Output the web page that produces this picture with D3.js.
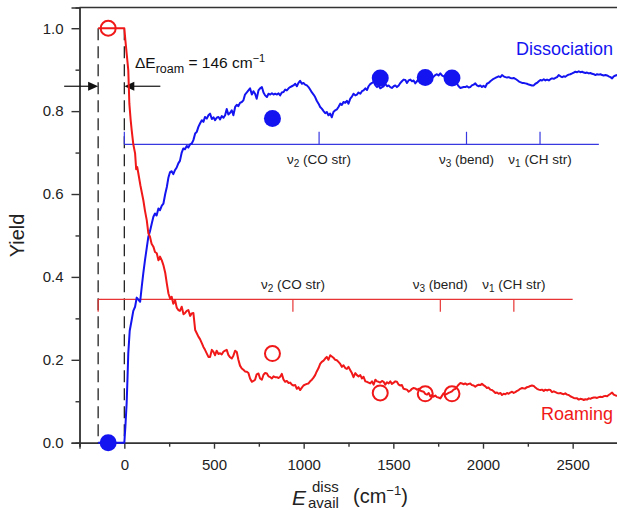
<!DOCTYPE html>
<html>
<head>
<meta charset="utf-8">
<script src="https://cdn.jsdelivr.net/npm/d3@7"></script>
<style>
  body { margin: 0; background: #fff; }
  text { font-family: 'Liberation Sans', Arial, sans-serif; }
</style>
</head>
<body>
<div class="chart"></div>
<script>
// DATA
// ----------------------------
// [E_avail (cm-1), yield]
const roaming = [
  [-146, 1.0], [0, 1.0], [6, 0.97], [13, 0.939], [22, 0.899], [28, 0.818], [35, 0.78], [41, 0.754],
  [50, 0.72], [60, 0.698], [66, 0.66], [72, 0.665], [78, 0.65], [90, 0.62], [106, 0.585], [115, 0.56],
  [125, 0.537], [134, 0.505], [143, 0.497], [152, 0.48], [162, 0.473], [171, 0.46], [181, 0.457],
  [190, 0.44], [199, 0.449], [209, 0.44], [218, 0.428], [228, 0.41], [237, 0.384], [246, 0.36],
  [255, 0.348], [264, 0.352], [273, 0.335], [283, 0.344], [292, 0.326], [301, 0.32], [310, 0.318],
  [320, 0.328], [330, 0.31], [339, 0.313], [348, 0.318], [357, 0.32], [367, 0.306], [376, 0.312],
  [385, 0.313], [395, 0.272], [404, 0.264], [413, 0.256], [422, 0.25], [432, 0.24], [441, 0.231],
  [450, 0.224], [460, 0.215], [469, 0.207], [478, 0.207], [488, 0.224], [497, 0.219], [506, 0.211],
  [515, 0.222], [525, 0.214], [534, 0.216], [543, 0.213], [553, 0.22], [562, 0.222], [571, 0.224],
  [580, 0.212], [590, 0.206], [599, 0.203], [608, 0.21], [618, 0.222], [627, 0.219], [636, 0.2],
  [645, 0.186], [655, 0.179], [664, 0.176], [673, 0.172], [683, 0.171], [692, 0.168], [701, 0.155],
  [711, 0.147], [720, 0.149], [729, 0.152], [738, 0.165], [748, 0.167], [757, 0.155], [767, 0.152],
  [776, 0.164], [785, 0.168], [795, 0.167], [804, 0.16], [814, 0.158], [823, 0.155], [832, 0.16],
  [841, 0.158], [851, 0.158], [860, 0.156], [869, 0.159], [878, 0.166], [888, 0.152], [897, 0.147],
  [906, 0.149], [916, 0.144], [925, 0.145], [934, 0.14], [943, 0.138], [953, 0.139], [962, 0.13],
  [971, 0.134], [980, 0.127], [990, 0.133], [999, 0.138], [1008, 0.14], [1018, 0.142], [1027, 0.143],
  [1036, 0.148], [1046, 0.152], [1055, 0.157], [1064, 0.163], [1073, 0.172], [1083, 0.18], [1092, 0.19],
  [1101, 0.195], [1111, 0.198], [1120, 0.203], [1129, 0.207], [1138, 0.2], [1148, 0.211], [1157, 0.208],
  [1166, 0.205], [1176, 0.2], [1185, 0.199], [1194, 0.195], [1204, 0.19], [1213, 0.183], [1222, 0.187],
  [1232, 0.18], [1241, 0.178], [1250, 0.183], [1260, 0.175], [1269, 0.168], [1278, 0.158], [1288, 0.168],
  [1297, 0.163], [1306, 0.16], [1316, 0.163], [1325, 0.155], [1334, 0.159], [1344, 0.148], [1353, 0.147],
  [1362, 0.145], [1371, 0.143], [1381, 0.148], [1390, 0.14], [1400, 0.152], [1409, 0.148], [1418, 0.147],
  [1427, 0.145], [1437, 0.149], [1446, 0.147], [1455, 0.14], [1465, 0.146], [1474, 0.143], [1483, 0.148],
  [1492, 0.142], [1502, 0.145], [1511, 0.148], [1520, 0.147], [1530, 0.14], [1539, 0.138], [1548, 0.139],
  [1557, 0.13], [1567, 0.129], [1576, 0.128], [1585, 0.123], [1595, 0.126], [1604, 0.13], [1613, 0.132],
  [1622, 0.131], [1632, 0.128], [1641, 0.13], [1650, 0.126], [1660, 0.124], [1669, 0.123], [1678, 0.118],
  [1688, 0.116], [1697, 0.12], [1706, 0.112], [1716, 0.115], [1724, 0.111], [1734, 0.114], [1743, 0.11],
  [1752, 0.109], [1762, 0.107], [1771, 0.113], [1780, 0.119], [1790, 0.116], [1799, 0.118], [1808, 0.12],
  [1818, 0.122], [1827, 0.124], [1836, 0.128], [1846, 0.13], [1855, 0.135], [1864, 0.14], [1874, 0.144],
  [1883, 0.143], [1892, 0.141], [1901, 0.143], [1911, 0.14], [1920, 0.142], [1929, 0.143], [1938, 0.139],
  [1948, 0.138], [1957, 0.135], [1966, 0.138], [1976, 0.14], [1985, 0.139], [1994, 0.142], [2003, 0.139],
  [2013, 0.136], [2022, 0.132], [2031, 0.133], [2041, 0.128], [2050, 0.127], [2059, 0.124], [2069, 0.12],
  [2078, 0.121], [2087, 0.118], [2097, 0.12], [2106, 0.115], [2115, 0.118], [2125, 0.117], [2134, 0.12],
  [2143, 0.118], [2152, 0.121], [2162, 0.123], [2171, 0.12], [2180, 0.122], [2190, 0.125], [2199, 0.127],
  [2208, 0.13], [2218, 0.132], [2227, 0.131], [2236, 0.131], [2245, 0.134], [2255, 0.135], [2264, 0.137],
  [2273, 0.138], [2283, 0.137], [2292, 0.133], [2301, 0.13], [2311, 0.128], [2320, 0.127], [2329, 0.128],
  [2339, 0.125], [2348, 0.128], [2357, 0.126], [2367, 0.128], [2376, 0.127], [2385, 0.122], [2395, 0.124],
  [2404, 0.122], [2413, 0.12], [2422, 0.119], [2432, 0.12], [2441, 0.118], [2450, 0.117], [2459, 0.119],
  [2469, 0.116], [2478, 0.115], [2487, 0.112], [2497, 0.11], [2506, 0.108], [2515, 0.107], [2525, 0.107],
  [2534, 0.104], [2543, 0.106], [2553, 0.105], [2562, 0.103], [2571, 0.105], [2580, 0.104], [2590, 0.107],
  [2599, 0.106], [2608, 0.108], [2618, 0.109], [2627, 0.109], [2636, 0.108], [2646, 0.11], [2655, 0.111],
  [2664, 0.11], [2673, 0.112], [2683, 0.113], [2692, 0.112], [2701, 0.115], [2711, 0.118], [2720, 0.121],
  [2729, 0.116], [2739, 0.114], [2748, 0.113]
]

const dissociation = [
  [-146, 0], [0, 0], [6, 0.04], [13, 0.096], [18, 0.16], [22, 0.216], [30, 0.27], [41, 0.296], [50, 0.318],
  [60, 0.328], [69, 0.35], [78, 0.345], [88, 0.34], [97, 0.376], [106, 0.41], [115, 0.44], [125, 0.47],
  [134, 0.497], [143, 0.51], [153, 0.529], [162, 0.545], [171, 0.553], [180, 0.548], [190, 0.565],
  [199, 0.561], [209, 0.572], [218, 0.577], [228, 0.6], [237, 0.617], [246, 0.64], [255, 0.653],
  [264, 0.655], [273, 0.648], [283, 0.658], [292, 0.664], [301, 0.674], [310, 0.68], [320, 0.7],
  [329, 0.71], [338, 0.708], [348, 0.716], [357, 0.712], [367, 0.72], [376, 0.722], [385, 0.73],
  [395, 0.746], [404, 0.75], [413, 0.762], [422, 0.77], [432, 0.778], [441, 0.774], [450, 0.786],
  [460, 0.782], [469, 0.79], [478, 0.794], [488, 0.781], [497, 0.785], [506, 0.778], [515, 0.784],
  [525, 0.786], [534, 0.78], [543, 0.788], [553, 0.784], [562, 0.79], [571, 0.805], [580, 0.792],
  [590, 0.796], [599, 0.802], [608, 0.79], [618, 0.81], [627, 0.815], [636, 0.812], [645, 0.82],
  [655, 0.822], [664, 0.826], [673, 0.84], [683, 0.845], [692, 0.85], [701, 0.855], [711, 0.84],
  [720, 0.848], [729, 0.842], [738, 0.83], [748, 0.85], [757, 0.855], [767, 0.858], [776, 0.845],
  [785, 0.838], [795, 0.834], [804, 0.842], [814, 0.84], [823, 0.843], [832, 0.84], [841, 0.842],
  [851, 0.84], [860, 0.843], [869, 0.838], [878, 0.845], [888, 0.846], [897, 0.852], [906, 0.85],
  [916, 0.855], [925, 0.858], [934, 0.86], [943, 0.862], [953, 0.866], [962, 0.86], [971, 0.868],
  [980, 0.873], [990, 0.866], [999, 0.868], [1008, 0.864], [1018, 0.862], [1027, 0.858], [1036, 0.852],
  [1046, 0.845], [1055, 0.84], [1064, 0.834], [1073, 0.825], [1083, 0.818], [1092, 0.81], [1101, 0.806],
  [1111, 0.8], [1120, 0.795], [1129, 0.798], [1138, 0.79], [1148, 0.794], [1157, 0.785], [1166, 0.798],
  [1176, 0.802], [1185, 0.804], [1194, 0.81], [1204, 0.818], [1213, 0.815], [1222, 0.822], [1232, 0.82],
  [1241, 0.825], [1250, 0.818], [1260, 0.83], [1269, 0.835], [1278, 0.842], [1288, 0.838], [1297, 0.84],
  [1306, 0.845], [1316, 0.842], [1325, 0.848], [1334, 0.85], [1344, 0.855], [1353, 0.851], [1362, 0.86],
  [1371, 0.865], [1381, 0.868], [1390, 0.871], [1400, 0.862], [1409, 0.858], [1418, 0.862], [1427, 0.855],
  [1437, 0.858], [1446, 0.86], [1455, 0.866], [1465, 0.86], [1474, 0.862], [1483, 0.858], [1492, 0.856],
  [1502, 0.86], [1511, 0.862], [1520, 0.858], [1530, 0.862], [1539, 0.868], [1548, 0.872], [1557, 0.876],
  [1567, 0.875], [1576, 0.868], [1585, 0.874], [1595, 0.876], [1604, 0.872], [1613, 0.874], [1622, 0.867],
  [1632, 0.872], [1641, 0.878], [1650, 0.876], [1660, 0.88], [1669, 0.882], [1678, 0.878], [1688, 0.884],
  [1697, 0.88], [1706, 0.886], [1716, 0.882], [1724, 0.883], [1734, 0.887], [1743, 0.889], [1752, 0.886],
  [1762, 0.891], [1771, 0.886], [1780, 0.884], [1790, 0.883], [1799, 0.882], [1808, 0.88], [1818, 0.878],
  [1827, 0.878], [1836, 0.876], [1846, 0.872], [1855, 0.866], [1864, 0.86], [1874, 0.856], [1883, 0.857],
  [1892, 0.858], [1901, 0.858], [1911, 0.86], [1920, 0.857], [1929, 0.858], [1938, 0.862], [1948, 0.864],
  [1957, 0.867], [1966, 0.862], [1976, 0.86], [1985, 0.862], [1994, 0.858], [2003, 0.861], [2013, 0.858],
  [2022, 0.866], [2031, 0.868], [2041, 0.872], [2050, 0.875], [2059, 0.878], [2069, 0.88], [2078, 0.882],
  [2087, 0.884], [2097, 0.882], [2106, 0.887], [2115, 0.884], [2125, 0.882], [2134, 0.881], [2143, 0.882],
  [2152, 0.88], [2162, 0.879], [2171, 0.88], [2180, 0.878], [2190, 0.875], [2199, 0.872], [2208, 0.87],
  [2218, 0.868], [2227, 0.868], [2236, 0.867], [2245, 0.866], [2255, 0.864], [2264, 0.863], [2273, 0.862],
  [2283, 0.862], [2292, 0.866], [2301, 0.868], [2311, 0.872], [2320, 0.875], [2329, 0.874], [2339, 0.877],
  [2348, 0.874], [2357, 0.876], [2367, 0.874], [2376, 0.877], [2385, 0.879], [2395, 0.878], [2404, 0.88],
  [2413, 0.882], [2422, 0.887], [2432, 0.884], [2441, 0.882], [2450, 0.884], [2459, 0.883], [2469, 0.886],
  [2478, 0.888], [2487, 0.889], [2497, 0.891], [2506, 0.893], [2515, 0.895], [2525, 0.894], [2534, 0.896],
  [2543, 0.894], [2553, 0.895], [2562, 0.893], [2571, 0.892], [2580, 0.893], [2590, 0.891], [2599, 0.892],
  [2608, 0.89], [2618, 0.889], [2627, 0.887], [2636, 0.889], [2646, 0.888], [2655, 0.889], [2664, 0.887],
  [2673, 0.886], [2683, 0.887], [2692, 0.886], [2701, 0.884], [2711, 0.882], [2720, 0.879], [2729, 0.884],
  [2739, 0.886], [2748, 0.887]
]

// single-point measurements
const roamingPoints = [[-90, 1.0], [826, 0.215], [1427, 0.12], [1678, 0.118], [1827, 0.118]]
const dissocPoints = [[-90, 0.0], [826, 0.782], [1427, 0.88], [1678, 0.881], [1827, 0.88]]

// vibrational thresholds (roaming ladder; dissociation ladder shifted by dE_roam)
const deltaRoam = 146
const modeSubs = ['2', '3', '1']
const modeNames = ['(CO str)', '(bend)', '(CH str)']
const roamModes = [940, 1762, 2172]
const dissModes = [1086, 1908, 2318]
const roamLadder = [-146, 2500]
const dissLadder = [0, 2646]

const xTicks = [0, 500, 1000, 1500, 2000, 2500]
const yTicks = [0.0, 0.2, 0.4, 0.6, 0.8, 1.0]

// SETUP
// ----------------------------
const fullWidth = 617
const fullHeight = 510
const margin = { top: 7.5, bottom: 67.3, left: 79.5, right: -0.5 }
const width = fullWidth - margin.left - margin.right
const height = fullHeight - margin.top - margin.bottom

const RED = '#f01818'
const BLUE = '#1414f0'
const AXIS = '#333'

const svg = d3.select('.chart')
  .append('svg')
    .attr('width', fullWidth)
    .attr('height', fullHeight)
    .attr('viewBox', `0 0 ${fullWidth} ${fullHeight}`)
  .append('g')
    .attr('transform', `translate(${margin.left}, ${margin.top})`)

const xScale = d3.scaleLinear().domain([-250, 2750]).range([0, width])
const yScale = d3.scaleLinear().domain([0, 1.05]).range([height, 0])

// AXES
// ----------------------------
const xMinor = d3.range(-250, 2751, 250).filter(v => v % 500 !== 0)
svg.append('g')
    .attr('transform', `translate(0, ${height})`)
    .call(d3.axisBottom(xScale).tickValues(xMinor).tickSize(4).tickFormat(''))
svg.append('g')
    .attr('class', 'x-axis')
    .attr('transform', `translate(0, ${height})`)
    .call(d3.axisBottom(xScale).tickValues(xTicks).tickSize(6).tickPadding(11).tickFormat(d3.format('d')))

const yMinor = [0.1, 0.3, 0.5, 0.7, 0.9]
svg.append('g')
    .call(d3.axisLeft(yScale).tickValues(yMinor).tickSize(4).tickFormat(''))
svg.append('g')
    .call(d3.axisLeft(yScale).tickValues(yTicks).tickSize(8).tickPadding(8).tickFormat(d3.format('.1f')))

svg.selectAll('.domain, .tick line')
    .attr('stroke', AXIS)
    .attr('stroke-width', 1.4)
svg.selectAll('.tick text')
    .attr('fill', '#222')
    .style('font-size', '15px')

// top frame
svg.append('line')
    .attr('x1', 0).attr('x2', width)
    .attr('y1', 0).attr('y2', 0)
    .attr('stroke', AXIS)
    .attr('stroke-width', 1.4)

// axis titles
svg.append('text')
    .attr('transform', `translate(${17 - margin.left}, ${yScale(0.5)}) rotate(-90)`)
    .attr('text-anchor', 'middle')
    .attr('dy', '0.35em')
    .style('font-size', '20px')
    .attr('fill', '#222')
    .text('Yield')

const xt = svg.append('g').attr('fill', '#222')
xt.append('text')
    .attr('x', 292 - margin.left).attr('y', 505 - margin.top)
    .style('font-size', '21px').style('font-style', 'italic')
    .text('E')
xt.append('text')
    .attr('x', 312 - margin.left).attr('y', 492 - margin.top)
    .style('font-size', '15px')
    .text('diss')
xt.append('text')
    .attr('x', 308 - margin.left).attr('y', 508 - margin.top)
    .style('font-size', '15px')
    .text('avail')
const unit = xt.append('text')
    .attr('x', 353 - margin.left).attr('y', 503 - margin.top)
    .style('font-size', '20px')
unit.append('tspan').text('(cm')
unit.append('tspan').attr('dy', -8).style('font-size', '13px').text('\u22121')
unit.append('tspan').attr('dy', 8).text(')')

// ROAMING THRESHOLD
// ----------------------------
;[-deltaRoam, 0].forEach(e => {
  svg.append('line')
    .attr('x1', xScale(e)).attr('x2', xScale(e))
    .attr('y1', yScale(1.0)).attr('y2', yScale(0))
    .attr('stroke', '#222')
    .attr('stroke-width', 1.3)
    .attr('stroke-dasharray', '12,6')
})

const arrowY = yScale(0.86)
function arrow (xFrom, xTo) {
  const dir = Math.sign(xTo - xFrom)
  svg.append('line')
    .attr('x1', xFrom).attr('x2', xTo - dir * 6)
    .attr('y1', arrowY).attr('y2', arrowY)
    .attr('stroke', '#111').attr('stroke-width', 1.2)
  svg.append('path')
    .attr('d', `M${xTo},${arrowY} L${xTo - dir * 10},${arrowY - 4.5} L${xTo - dir * 10},${arrowY + 4.5} Z`)
    .attr('fill', '#111')
}
arrow(xScale(-deltaRoam) - 34, xScale(-deltaRoam))
arrow(xScale(0) + 36, xScale(0))

const dE = svg.append('text')
    .attr('x', 135 - margin.left).attr('y', 68 - margin.top)
    .style('font-size', '15.5px')
    .attr('fill', '#111')
dE.append('tspan').text('\u0394E')
dE.append('tspan').attr('dy', 5).style('font-size', '12.5px').text('roam')
dE.append('tspan').attr('dy', -5).text(` = ${deltaRoam} cm`)
dE.append('tspan').attr('dy', -6).style('font-size', '11px').text('\u22121')

// MODE LADDERS
// ----------------------------
function ladder (range, modes, yVal, dir, color, labelY) {
  const y0 = yScale(yVal)
  svg.append('line')
    .attr('x1', xScale(range[0])).attr('x2', xScale(range[1]))
    .attr('y1', y0).attr('y2', y0)
    .attr('stroke', color).attr('stroke-width', 1.2)
  ;[range[0]].concat(modes).forEach(e => {
    svg.append('line')
      .attr('x1', xScale(e)).attr('x2', xScale(e))
      .attr('y1', y0).attr('y2', y0 + dir * 12.5)
      .attr('stroke', color).attr('stroke-width', 1.2)
  })
  modes.forEach((e, i) => {
    const t = svg.append('text')
      .attr('x', xScale(e)).attr('y', labelY)
      .attr('text-anchor', 'middle')
      .style('font-size', '13.5px')
      .attr('fill', '#222')
    t.append('tspan').text('\u03bd')
    t.append('tspan').attr('dy', 3).style('font-size', '10px').text(modeSubs[i])
    t.append('tspan').attr('dy', -3).text(' ' + modeNames[i])
  })
}
ladder(dissLadder, dissModes, 0.72, -1, '#3838e0', yScale(0.72) + 20)
ladder(roamLadder, roamModes, 0.346, 1, '#e83434', yScale(0.346) - 10)

// CURVES
// ----------------------------
const line = d3.line()
  .x(d => xScale(d[0]))
  .y(d => yScale(d[1]))

svg.append('path')
    .datum(dissociation)
    .attr('d', line)
    .attr('fill', 'none')
    .attr('stroke', BLUE)
    .attr('stroke-width', 2)
    .attr('stroke-linejoin', 'round')

svg.append('path')
    .datum(roaming)
    .attr('d', line)
    .attr('fill', 'none')
    .attr('stroke', RED)
    .attr('stroke-width', 2)
    .attr('stroke-linejoin', 'round')

// POINTS
// ----------------------------
svg.selectAll('.diss-pt')
  .data(dissocPoints)
  .enter()
  .append('circle')
    .attr('class', 'diss-pt')
    .attr('cx', d => xScale(d[0]))
    .attr('cy', d => yScale(d[1]))
    .attr('r', 8.5)
    .attr('fill', BLUE)

svg.selectAll('.roam-pt')
  .data(roamingPoints)
  .enter()
  .append('circle')
    .attr('class', 'roam-pt')
    .attr('cx', d => xScale(d[0]))
    .attr('cy', d => yScale(d[1]))
    .attr('r', 7.5)
    .attr('fill', 'none')
    .attr('stroke', RED)
    .attr('stroke-width', 2)

// LABELS
// ----------------------------
svg.append('text')
    .attr('x', 613 - margin.left).attr('y', 55 - margin.top)
    .attr('text-anchor', 'end')
    .style('font-size', '18px')
    .attr('fill', BLUE)
    .text('Dissociation')

svg.append('text')
    .attr('x', 613 - margin.left).attr('y', 420 - margin.top)
    .attr('text-anchor', 'end')
    .style('font-size', '18px')
    .attr('fill', RED)
    .text('Roaming')
</script>
</body>
</html>
